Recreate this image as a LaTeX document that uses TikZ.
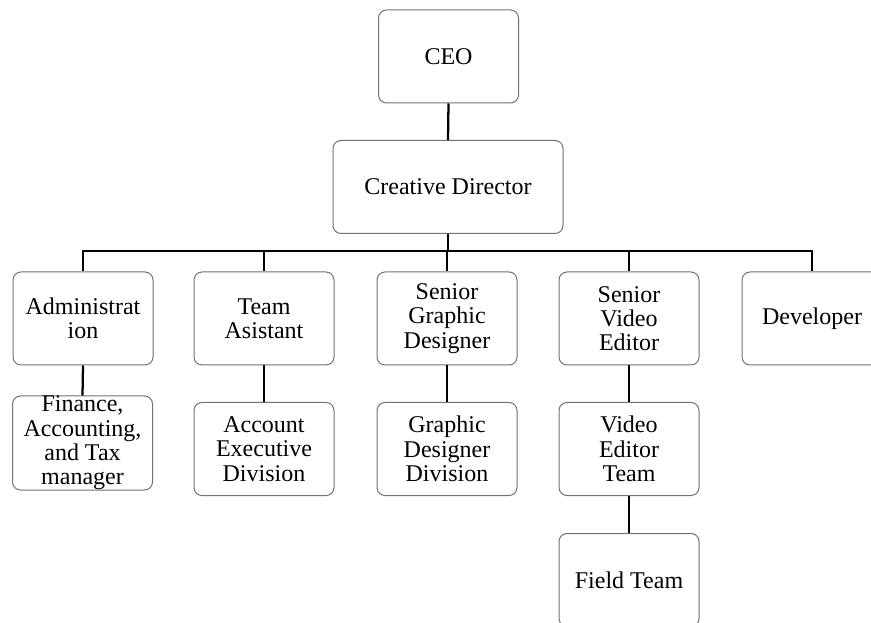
\documentclass[tikz,border=0pt]{standalone}
\usepackage{fontspec}
\setmainfont{Liberation Serif}
\begin{document}
\begin{tikzpicture}[x=0.75pt,y=-0.75pt,
  box/.style={draw=black!55, line width=0.75pt, rounded corners=6pt, fill=white,
    minimum width=105pt, minimum height=69.75pt, inner sep=0pt, align=center,
    font=\fontsize{18}{18.2}\selectfont},
  link/.style={draw=black, line width=1.7pt}]
\useasboundingbox (0,0) rectangle (871,623);
\clip (0,0) rectangle (871,623);
\node[box] (ceo) at (448.5,56.5) {CEO};
\node[box, minimum width=172.5pt] (cd) at (448,187) {Creative Director};
\node[box] (adm) at (83,318.5) {Administrat\\ion};
\node[box] (ta) at (264,318.5) {Team\\Asistant};
\node[box] (sgd) at (447,318.5) {Senior\\Graphic\\Designer};
\node[box] (sve) at (629,318.5) {Senior\\Video\\Editor};
\node[box] (dev) at (812,318.5) {Developer};
\node[box, minimum height=70.5pt] (fin) at (82.5,443) {Finance,\\Accounting,\\and Tax\\manager};
\node[box] (aed) at (264,449) {Account\\Executive\\Division};
\node[box] (gdd) at (447,449) {Graphic\\Designer\\Division};
\node[box] (vet) at (629,449) {Video\\Editor\\Team};
\node[box] (ft) at (629,580) {Field Team};
\coordinate (bar) at (448,251);
\draw[link] (ceo.south) -- (cd.north);
\draw[link] (cd.south) -- (cd.south |- bar);
\draw[link] (adm.north) -- (adm.north |- bar) -- (dev.north |- bar) -- (dev.north);
\draw[link] (ta.north) -- (ta.north |- bar);
\draw[link] (sgd.north) -- (sgd.north |- bar);
\draw[link] (sve.north) -- (sve.north |- bar);
\draw[link] (adm.south) -- (fin.north);
\draw[link] (ta.south) -- (aed.north);
\draw[link] (sgd.south) -- (gdd.north);
\draw[link] (sve.south) -- (vet.north);
\draw[link] (vet.south) -- (ft.north);
\end{tikzpicture}
\end{document}
